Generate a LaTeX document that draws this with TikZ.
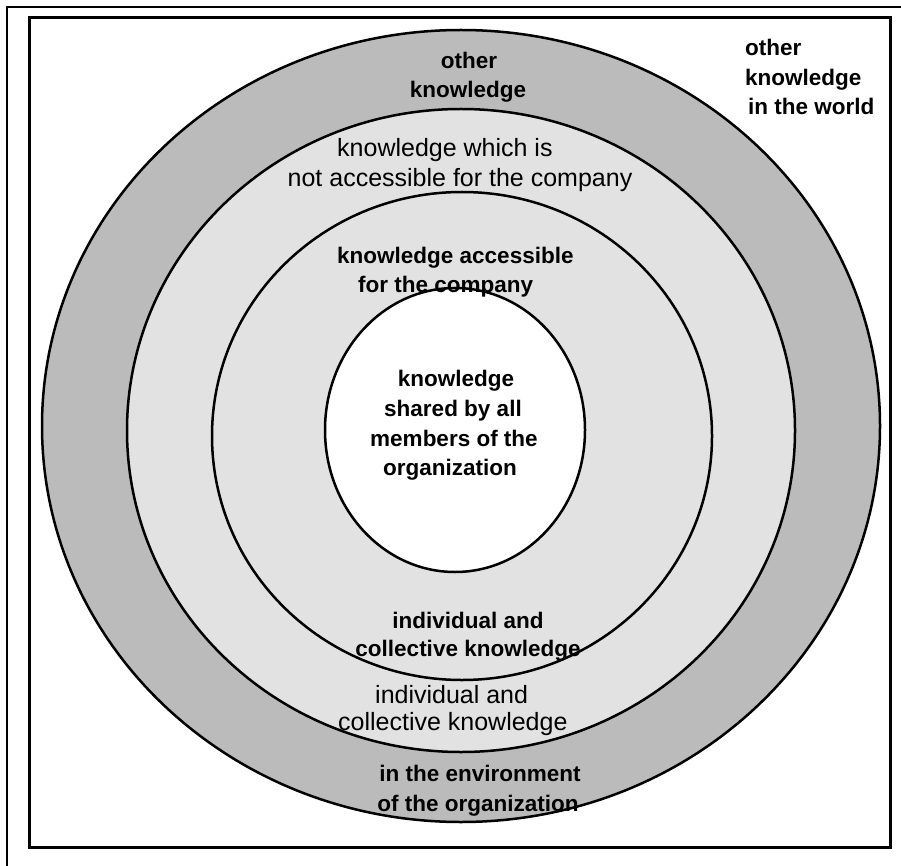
\documentclass[tikz,border=0pt]{standalone}
\usepackage{fontspec}
\setmainfont{Liberation Sans}
\definecolor{ringdark}{HTML}{BBBBBB}
\definecolor{ringlight}{HTML}{E2E2E2}
\begin{document}
\begin{tikzpicture}[x=1pt,y=-1pt,
  ringline/.style={draw=black,line width=2.5pt},
  boldtxt/.style={font=\fontsize{22.5}{27}\selectfont\bfseries, inner sep=0pt},
  plaintxt/.style={font=\fontsize{25}{30}\selectfont, inner sep=0pt}]
\useasboundingbox (0,0) rectangle (901,866);
\fill[white] (0,0) rectangle (901,866);

% frame
\draw[line width=1.4pt] (7,866) -- (7,7) -- (901,7);
\draw[line width=3pt] (29,18) rectangle (890,847);

% rings, outermost first
\filldraw[fill=ringdark, ringline] (461,426) ellipse [x radius=419pt, y radius=396pt];
\filldraw[fill=ringlight, ringline] (461,430.5) ellipse [x radius=334pt, y radius=321.5pt];
\filldraw[fill=ringlight, ringline] (462,436) ellipse [x radius=250pt, y radius=244pt];
\filldraw[fill=white, ringline] (455,430) ellipse [x radius=130pt, y radius=142pt];

% outer ring labels
\node[boldtxt, anchor=base] (other1) at (469,69) {other};
\node[boldtxt, anchor=base] (other2) at (468,98) {knowledge};
\node[boldtxt, anchor=base] (env1) at (480,781) {in the environment};
\node[boldtxt, anchor=base] (env2) at (478,811) {of the organization};

% second ring labels
\node[plaintxt, anchor=base west] (na1) at (337,157) {knowledge which is};
\node[plaintxt, anchor=base] (na2) at (460,187) {not accessible for the company};
\node[plaintxt, anchor=base west] (ic1) at (375,703) {individual and};
\node[plaintxt, anchor=base west] (ic2) at (338,730) {collective knowledge};

% third ring labels
\node[boldtxt, anchor=base west] (acc1) at (337,264) {knowledge accessible};
\node[boldtxt, anchor=base west] (acc2) at (358,293) {for the company};
\node[boldtxt, anchor=base] (ind1) at (468,628) {individual and};
\node[boldtxt, anchor=base] (ind2) at (468,656) {collective knowledge};

% centre labels
\node[boldtxt, anchor=base] (sh1) at (456,386) {knowledge};
\node[boldtxt, anchor=base] (sh2) at (453,416) {shared by all};
\node[boldtxt, anchor=base] (sh3) at (454,446) {members of the};
\node[boldtxt, anchor=base] (sh4) at (450,475) {organization};

% label outside the rings
\node[boldtxt, anchor=base west] (w1) at (745,56) {other};
\node[boldtxt, anchor=base west] (w2) at (745,86) {knowledge};
\node[boldtxt, anchor=base west] (w3) at (748,115) {in the world};
\end{tikzpicture}
\end{document}
